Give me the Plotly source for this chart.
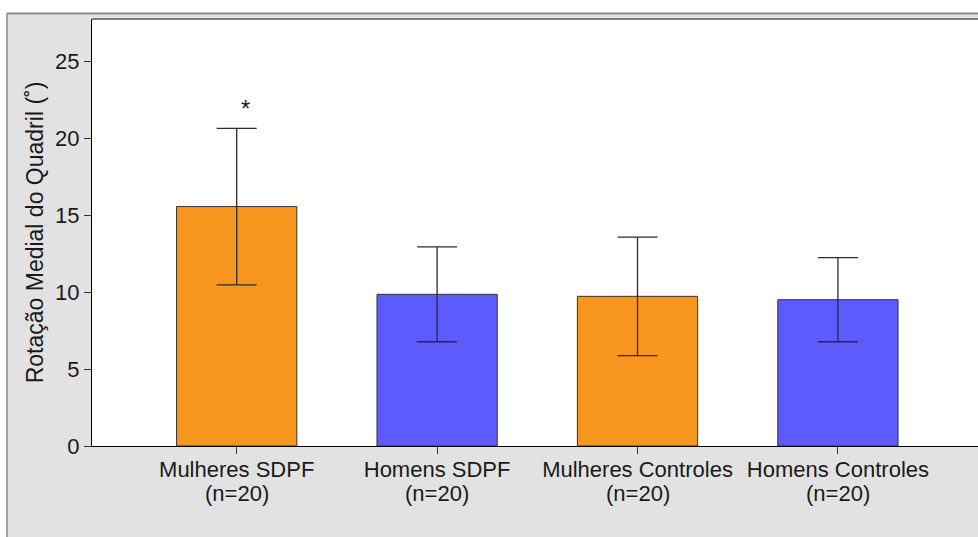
import plotly.graph_objects as go

# Medial hip rotation by group (mean ± SD, degrees)
categories = ["Mulheres SDPF", "Homens SDPF", "Mulheres Controles", "Homens Controles"]
sample_sizes = [20, 20, 20, 20]
means = [15.55, 9.85, 9.72, 9.50]
sds = [5.08, 3.08, 3.85, 2.73]
bar_colors = ["#F7961C", "#5B5BFF", "#F7961C", "#5B5BFF"]
significant = [True, False, False, False]
y_ticks = [0, 5, 10, 15, 20, 25]

W, H = 978, 537
ML, MR, MT, MB = 92, 0, 19, 91
PW, PH = W - ML - MR, H - MT - MB


def px_x(px):
    return (px - ML) / PW


def px_y(py):
    return (H - MB - py) / PH


FONT = "Liberation Sans, Arial, sans-serif"
TXT = "#1a1a1a"
x_pos = list(range(len(categories)))

fig = go.Figure()
fig.add_trace(go.Bar(
    x=x_pos,
    y=means,
    width=0.6,
    marker=dict(color=bar_colors, line=dict(color="#333333", width=1)),
    error_y=dict(type="data", array=sds, visible=True,
                 color="#2b2b2b", thickness=1.3, width=20),
    showlegend=False,
    hoverinfo="skip",
))

annotations = []
# second line of each category label: group size
for xi, n in zip(x_pos, sample_sizes):
    annotations.append(dict(
        x=xi, y=px_y(494), xref="x", yref="paper",
        text=f"(n={n})", showarrow=False, yanchor="middle",
        font=dict(family=FONT, size=22, color=TXT),
    ))
# significance markers
for xi, m, s, sig in zip(x_pos, means, sds, significant):
    if sig:
        annotations.append(dict(
            x=xi, y=m + s, xref="x", yref="y", text="*", showarrow=False,
            yanchor="bottom", xshift=9, yshift=4,
            font=dict(family=FONT, size=24, color=TXT),
        ))

shapes = [
    # white page strip left of the panel
    dict(type="rect", xref="paper", yref="paper",
         x0=px_x(0), x1=px_x(6.5), y0=px_y(H), y1=px_y(0),
         fillcolor="white", line=dict(width=0), layer="above"),
    # white page strip above the panel
    dict(type="rect", xref="paper", yref="paper",
         x0=px_x(0), x1=px_x(W), y0=px_y(13), y1=px_y(0),
         fillcolor="white", line=dict(width=0), layer="above"),
    # panel frame
    dict(type="line", xref="paper", yref="paper",
         x0=px_x(7), x1=px_x(7), y0=px_y(H), y1=px_y(13.5),
         line=dict(color="#8a8a8a", width=1.5)),
    dict(type="line", xref="paper", yref="paper",
         x0=px_x(7), x1=px_x(W), y0=px_y(13.5), y1=px_y(13.5),
         line=dict(color="#8a8a8a", width=2)),
    # top edge of the plotting area
    dict(type="line", xref="paper", yref="paper",
         x0=0, x1=1, y0=1, y1=1,
         line=dict(color="#555555", width=1.5)),
]

fig.update_layout(
    width=W, height=H,
    margin=dict(l=ML, r=MR, t=MT, b=MB, pad=0),
    paper_bgcolor="#e2e2e2",
    plot_bgcolor="white",
    font=dict(family=FONT, size=22, color=TXT),
    bargap=0.4,
    annotations=annotations,
    shapes=shapes,
    xaxis=dict(
        range=[-0.722, 3.699],
        tickmode="array", tickvals=x_pos, ticktext=categories,
        ticks="outside", ticklen=7, tickcolor="#333333", tickwidth=1,
        ticklabelstandoff=-3,
        showline=True, linecolor="black", linewidth=1,
        showgrid=False, zeroline=False,
        tickfont=dict(family=FONT, size=22, color=TXT),
    ),
    yaxis=dict(
        range=[0, 27.73],
        tickmode="array", tickvals=y_ticks,
        ticks="outside", ticklen=7, tickcolor="#333333", tickwidth=1,
        showline=True, linecolor="black", linewidth=1,
        showgrid=False, zeroline=False,
        tickfont=dict(family=FONT, size=22, color=TXT),
        title=dict(text="Rotação Medial do Quadril (˚)", standoff=5,
                   font=dict(family=FONT, size=23, color=TXT)),
    ),
)

fig.write_html("out.html")
